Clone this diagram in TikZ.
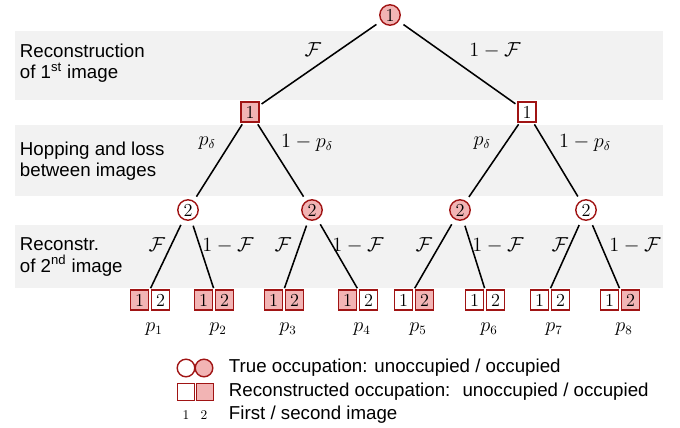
\documentclass[tikz,border=0pt]{standalone}
\usepackage{fontspec}
\setsansfont{Liberation Sans}
\usepackage{amssymb}
\usepackage{amsmath}
\usetikzlibrary{calc}

\definecolor{boxred}{RGB}{160,20,20}
\definecolor{occfill}{RGB}{242,180,180}
\definecolor{bandgray}{RGB}{242,242,242}

\tikzset{
  truenode/.style={circle, draw=boxred, line width=1pt, inner sep=0pt, minimum size=14.5pt, font=\fontsize{13}{13}\selectfont},
  recbox/.style={rectangle, draw=boxred, line width=1pt, inner sep=0pt, minimum width=13pt, minimum height=14pt, font=\fontsize{13}{13}\selectfont},
  occ/.style={fill=occfill},
  emp/.style={fill=white},
  branch/.style={line width=1.1pt},
  band/.style={fill=bandgray, draw=none},
  rowlabel/.style={anchor=west, align=left, font=\sffamily\fontsize{13.3}{15}\selectfont},
  lgtext/.style={anchor=west, font=\sffamily\fontsize{13.3}{15}\selectfont},
  prob/.style={font=\fontsize{13.5}{13.5}\selectfont}
}

\begin{document}
\begin{tikzpicture}[x=0.025cm,y=-0.025cm]
    \useasboundingbox (0,0) rectangle (680,428);

    % grey bands
    \fill[band] (15,31) rectangle (663,100);
    \fill[band] (15,125) rectangle (663,196);
    \fill[band] (15,225) rectangle (663,288);

    \node[rowlabel] (row1) at (15,63) {Reconstruction\\of 1\textsuperscript{st} image};
    \node[rowlabel] (row2) at (15,161) {Hopping and loss\\between images};
    \node[rowlabel] (row3) at (15,257) {Reconstr.\\of 2\textsuperscript{nd} image};

    % tree
    \node[truenode,occ] (top) at (390,15) {1};
    \node[recbox,occ] (r1) at (250,112) {1};
    \node[recbox,emp] (r2) at (527,112) {1};

    \node[truenode,emp] (c1) at (188,210) {2};
    \node[truenode,occ] (c2) at (312,210) {2};
    \node[truenode,occ] (c3) at (460,210) {2};
    \node[truenode,emp] (c4) at (586,210) {2};

    \foreach \x/\a/\b/\i in {150/occ/emp/1, 214/occ/occ/2, 284/occ/occ/3, 358/occ/emp/4,
                             414/emp/occ/5, 485/emp/emp/6, 550/emp/emp/7, 620/emp/occ/8} {
        \node[recbox,\a] (l\i a) at (\x-10.5,300) {1};
        \node[recbox,\b] (l\i b) at (\x+10.5,300) {2};
        \node[prob] (p\i) at (\x+4,329) {$p_{\i}$};
    }

    \draw[branch, shorten <=4pt, shorten >=1.5pt] (top) -- (r1);
    \draw[branch, shorten <=4pt, shorten >=1.5pt] (top) -- (r2);
    \draw[branch, shorten <=1.5pt, shorten >=3.5pt] (r1) -- (c1);
    \draw[branch, shorten <=1.5pt, shorten >=3.5pt] (r1) -- (c2);
    \draw[branch, shorten <=1.5pt, shorten >=3.5pt] (r2) -- (c3);
    \draw[branch, shorten <=1.5pt, shorten >=3.5pt] (r2) -- (c4);

    \foreach \c/\i/\j in {c1/1/2, c2/3/4, c3/5/6, c4/7/8} {
        \draw[branch, shorten <=4pt, shorten >=1pt] (\c) -- ($(l\i a.north)!.5!(l\i b.north)$);
        \draw[branch, shorten <=4pt, shorten >=1pt] (\c) -- ($(l\j a.north)!.5!(l\j b.north)$);
    }

    % branch probabilities
    \node[prob] (f0) at (313,50) {$\mathcal{F}$};
    \node[prob] (g0) at (495,50) {$1-\mathcal{F}$};
    \node[prob] (d1) at (207,143) {$p_\delta$};
    \node[prob] (e1) at (307,143) {$1-p_\delta$};
    \node[prob] (d2) at (482,143) {$p_\delta$};
    \node[prob] (e2) at (585,143) {$1-p_\delta$};
    \node[prob] (f1) at (157,245) {$\mathcal{F}$};
    \node[prob] (g1) at (228,245) {$1-\mathcal{F}$};
    \node[prob] (f2) at (283,245) {$\mathcal{F}$};
    \node[prob] (g2) at (358,245) {$1-\mathcal{F}$};
    \node[prob] (f3) at (424,245) {$\mathcal{F}$};
    \node[prob] (g3) at (498,245) {$1-\mathcal{F}$};
    \node[prob] (f4) at (560,245) {$\mathcal{F}$};
    \node[prob] (g4) at (635,245) {$1-\mathcal{F}$};

    % legend
    \node[truenode,emp,minimum size=12.5pt] (lc1) at (186,368) {};
    \node[truenode,occ,minimum size=12.5pt] (lc2) at (204,368) {};
    \node[recbox,emp,minimum width=12pt,minimum height=12pt] (ls1) at (186,392) {};
    \node[recbox,occ,minimum width=12pt,minimum height=12pt] (ls2) at (205,392) {};
    \node[font=\fontsize{9.5}{9.5}\selectfont] (ln1) at (186,415) {1};
    \node[font=\fontsize{9.5}{9.5}\selectfont] (ln2) at (204,415) {2};
    \node[lgtext] (lt1) at (224,368) {True occupation: unoccupied / occupied};
    \node[lgtext] (lt2) at (224,392) {Reconstructed occupation:~ unoccupied / occupied};
    \node[lgtext] (lt3) at (224,415) {First / second image};
\end{tikzpicture}
\end{document}
